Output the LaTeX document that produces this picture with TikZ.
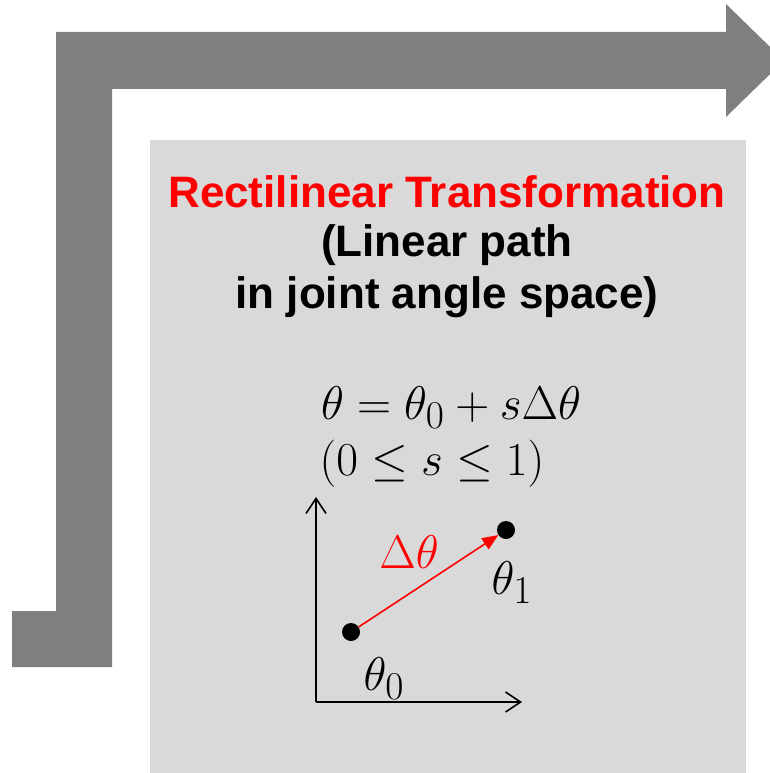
\documentclass[tikz,border=0pt]{standalone}
\usepackage{amsmath,amssymb}
\usepackage{graphicx}
\usepackage{fontspec}
\setmainfont{Liberation Sans}
\usepackage{tikz}
\usetikzlibrary{positioning,arrows.meta}
\definecolor{arrowgray}{HTML}{7F7F7F}
\definecolor{boxgray}{HTML}{D9D9D9}
\newcommand{\eqtext}[1]{\scalebox{1.9}{$#1$}}

\begin{document}
\begin{tikzpicture}[x=1pt,y=-1pt,
    ele/.style={fill=black,circle,minimum width=18pt,inner sep=0pt},
    ttl/.style={font=\fontsize{44}{52}\selectfont\bfseries,align=center},
    eqn/.style={font=\fontsize{24.88}{30}\selectfont,inner sep=0pt},
    axis/.style={line width=1.6pt,-{Straight Barb[length=15pt,width=20pt,line width=1.6pt]}}]
  \useasboundingbox (0,0) rectangle (770,773);

  % bent arrow and panel
  \fill[arrowgray] (56,32) -- (726,32) -- (726,4) -- (784,60.5) -- (726,117)
    -- (726,89) -- (112,89) -- (112,667) -- (12,667) -- (12,611) -- (56,611) -- cycle;
  \fill[boxgray] (150,140) rectangle (746,773);

  \node[ttl,text=red] (title) at (447,192) {Rectilinear Transformation};
  \node[ttl] (sub) at (447,271) {(Linear path\\in joint angle space)};

  \node[eqn] (eq) at (451,408) {\eqtext{\theta=\theta_0+s\Delta\theta}};
  \node[eqn] (range) at (432,464) {\eqtext{(0\leq s\leq 1)}};

  % joint angle space
  \coordinate (o) at (316,702);
  \coordinate (ytip) at (316,497);
  \coordinate (xtip) at (522,702);
  \draw[axis] (o) -- (ytip);
  \draw[axis] (o) -- (xtip);

  \node[ele] (p0) at (351,632) {};
  \node[ele] (p1) at (506,530) {};
  \draw[red,line width=1.6pt,-{Triangle[length=16pt,width=13pt]}] (p0) -- (p1);

  \node[eqn,text=red] (dth) at (409,552) {\eqtext{\Delta\theta}};
  \node[eqn] (th1) at (512,583) {\eqtext{\theta_1}};
  \node[eqn] (th0) at (384,679) {\eqtext{\theta_0}};
\end{tikzpicture}
\end{document}
